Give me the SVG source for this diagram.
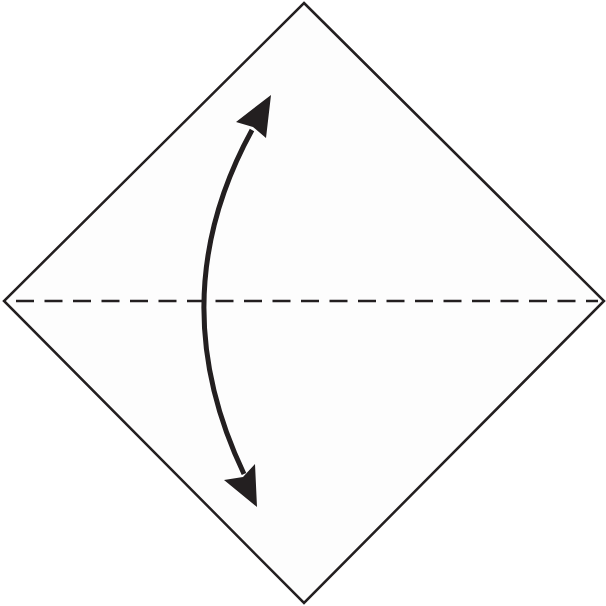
<svg xmlns="http://www.w3.org/2000/svg" width="606" height="606" viewBox="0 0 606 606">
<style>
.paper{fill:#fdfdfd;stroke:#231f20;stroke-width:2.5;stroke-linejoin:miter}
.valley{fill:none;stroke:#231f20;stroke-width:2.5;stroke-dasharray:18 10.5}
.shaft{fill:none;stroke:#231f20;stroke-width:5}
.head{fill:#231f20}
</style>
<rect width="606" height="606" fill="#ffffff"/>
<g id="paper">
<polygon class="paper" points="304,3 604,301 304,603 4,301"/>
</g>
<g id="crease">
<line class="valley" x1="16" y1="301" x2="598" y2="301"/>
</g>
<g id="connectors">
<path class="shaft" d="M252,130 Q160,298 244,474"/>
<polygon class="head" points="271,95 266,138 253,127 236,122"/>
<polygon class="head" points="257,507 224,480 243,477 255,464"/>
</g>
</svg>
